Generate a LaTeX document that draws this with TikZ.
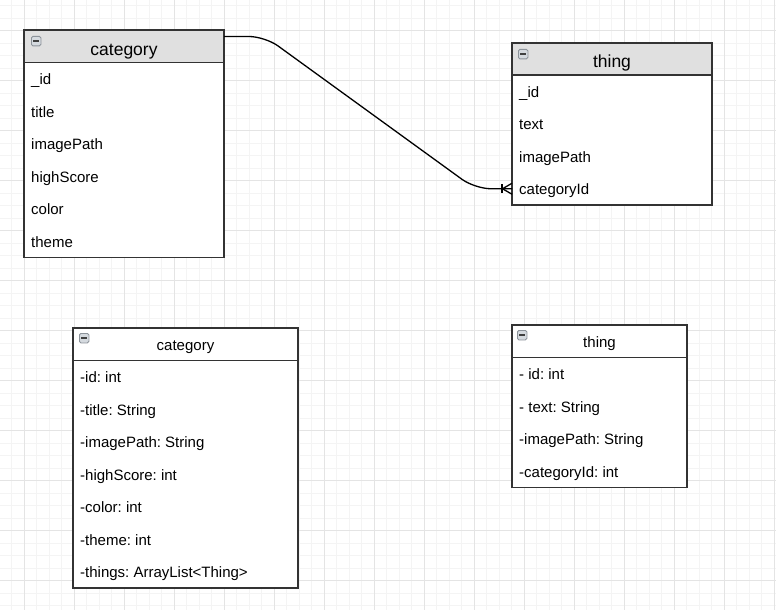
\documentclass[tikz,border=0pt]{standalone}
\usepackage{fontspec}
\setmainfont{Liberation Sans}
\frenchspacing
\definecolor{boxc}{HTML}{333333}
\definecolor{hdrc}{HTML}{E0E0E0}
\definecolor{gridmin}{HTML}{F4F4F4}
\definecolor{gridmaj}{HTML}{E4E4E4}
\definecolor{iconfill}{HTML}{D5DADF}
\definecolor{iconbd}{HTML}{8C939A}
\begin{document}
\begin{tikzpicture}[x=1pt,y=-1pt,
  frame/.style={draw=boxc, line width=1.3pt, inner sep=0pt, outer sep=0pt, anchor=north west},
  hdr/.style={frame, fill=hdrc, text height=17.4pt, text depth=0pt, font=\fontsize{17.5}{20}\selectfont},
  uhdr/.style={frame, fill=white, text height=11.5pt, text depth=0pt, font=\fontsize{15}{18}\selectfont},
  row/.style={anchor=west, inner sep=0pt, text height=12pt, text depth=0pt, font=\fontsize{15}{18}\selectfont},
  minus/.style={anchor=north west, draw=iconbd, fill=iconfill, rounded corners=1.5pt, line width=0.8pt,
     minimum width=9.5pt, minimum height=9.5pt, inner sep=0pt,
     path picture={\draw[line width=1.5pt, black!75] ([xshift=2pt]path picture bounding box.west) -- ([xshift=-2pt]path picture bounding box.east);}},
  conn/.style={draw=black, line width=1.3pt}]
\useasboundingbox (0,0) rectangle (776,610);
\fill[white] (0,0) rectangle (776,610);
% grid
\foreach \k in {0,...,62} \draw[gridmin, line width=0.7pt] ({-1+12.5*\k},0) -- ({-1+12.5*\k},610);
\foreach \k in {0,...,48} \draw[gridmin, line width=0.7pt] (0,{5.5+12.5*\k}) -- (776,{5.5+12.5*\k});
\foreach \k in {0,...,15} \draw[gridmaj, line width=0.9pt] ({24+50*\k},0) -- ({24+50*\k},610);
\foreach \k in {0,...,11} \draw[gridmaj, line width=0.9pt] (0,{30.5+50*\k}) -- (776,{30.5+50*\k});

% ---- ER category
\node[frame, fill=white, minimum width=200pt, minimum height=227.7pt] (c1) at (24,30) {};
\node[hdr, minimum width=200pt, minimum height=32.7pt] (c1h) at (24,30) {category};
\node[minus] (c1m) at (31,36) {};
\foreach \t [count=\i] in {\_id,title,imagePath,highScore,color,theme}
  \node[row] (c1r\i) at (31,{62.7+32.5*\i-16.25}) {\t};

% ---- ER thing
\node[frame, fill=white, minimum width=200pt, minimum height=162pt] (t1) at (512,43) {};
\node[hdr, minimum width=200pt, minimum height=32pt] (t1h) at (512,43) {thing};
\node[minus] (t1m) at (518,49) {};
\foreach \t [count=\i] in {\_id,text,imagePath,categoryId}
  \node[row] (t1r\i) at (519,{75+32.5*\i-16.25}) {\t};

% ---- UML category
\node[frame, fill=white, minimum width=225pt, minimum height=260pt] (c2) at (73,328) {};
\node[uhdr, minimum width=225pt, minimum height=32.5pt] (c2h) at (73,328) {category};
\node[minus] (c2m) at (79,333) {};
\foreach \t [count=\i] in {-id: int,-title: String,-imagePath: String,-highScore: int,-color: int,-theme: int,-things: ArrayList<Thing>}
  \node[row] (c2r\i) at (80,{360.5+32.5*\i-16.25}) {\t};

% ---- UML thing
\node[frame, fill=white, minimum width=175pt, minimum height=162.5pt] (t2) at (512,325) {};
\node[uhdr, minimum width=175pt, minimum height=32.5pt] (t2h) at (512,325) {thing};
\node[minus] (t2m) at (517,330) {};
\foreach \t [count=\i] in {- id: int,- text: String,-imagePath: String,-categoryId: int}
  \node[row] (t2r\i) at (519,{357.5+32.5*\i-16.25}) {\t};

% ---- connector
\coordinate (cs) at ([yshift=-6.5pt]c1h.north east);
\coordinate (ce) at (t1.west |- t1r4);
\draw[conn, rounded corners=16pt] (cs) -- (265,36.5) -- (475,188.75) -- (ce);
\draw[conn] ([xshift=-10pt,yshift=4.5pt]ce) -- ([xshift=-10pt,yshift=-4.5pt]ce);
\draw[conn] ([xshift=-9.5pt]ce) -- ([yshift=5.5pt]ce);
\draw[conn] ([xshift=-9.5pt]ce) -- ([yshift=-5.5pt]ce);
\end{tikzpicture}
\end{document}
